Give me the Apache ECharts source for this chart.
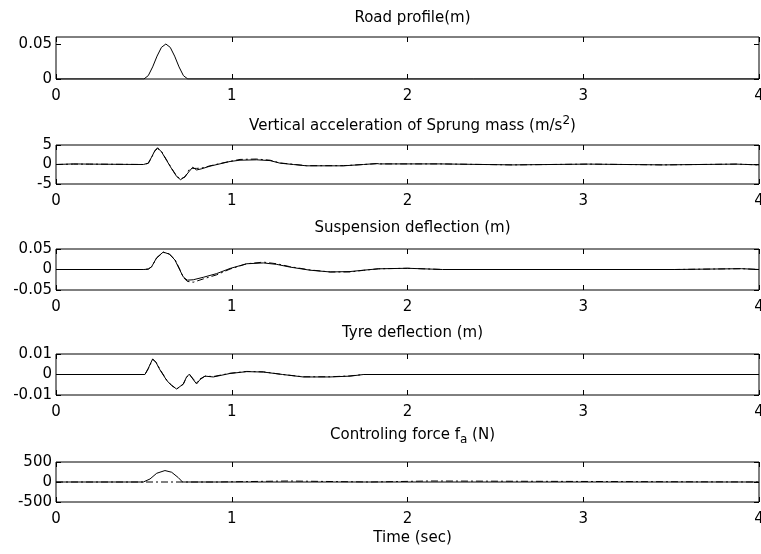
<!DOCTYPE html>
<html>
<head>
<meta charset="utf-8">
<script src="https://cdn.jsdelivr.net/npm/echarts@6/dist/echarts.min.js"></script>
<style>
  html, body { margin: 0; padding: 0; background: #fff; overflow: hidden; }
  #chart { width: 761px; height: 554px; }
</style>
</head>
<body>
<div id="chart"></div>
<script>
// Time ticks shared by all panels (sec)
const timeTicks = [0, 1, 2, 3, 4];

// Road profile (m)
const roadT = [0, 0.5, 0.525, 0.55, 0.575, 0.6, 0.625, 0.65, 0.675, 0.7, 0.725, 0.75, 4];
const roadY = [0, 0, 0.0048, 0.0173, 0.0327, 0.0452, 0.05, 0.0452, 0.0327, 0.0173, 0.0048, 0, 0];
const roadTicks = [0, 0.05];

// Vertical acceleration of sprung mass (m/s^2): solid and dash-dot responses
const accT = [0, 0.1, 0.19, 0.2, 0.497, 0.525, 0.544, 0.563, 0.578, 0.601, 0.63, 0.658, 0.687, 0.709, 0.734, 0.759, 0.778, 0.8, 0.829, 0.876, 0.933, 0.99, 1.047, 1.142, 1.218, 1.275, 1.35, 1.426, 1.635, 1.749, 1.825, 1.84, 2.185, 2.19, 2.6, 2.61, 3.03, 3.04, 3.455, 3.46, 3.87, 3.88, 4];
const accA = [0, 0.15, 0.1, 0, 0, 0.34, 1.9, 3.6, 4.3, 3.2, 1.0, -1.1, -3.1, -3.9, -3.1, -1.7, -0.7, -1.4, -1.1, -0.43, 0.17, 0.77, 1.1, 1.2, 1.0, 0.34, 0, -0.34, -0.34, 0, 0.25, 0.15, 0.15, -0.1, -0.1, 0.1, 0.1, -0.1, -0.1, 0.1, 0.1, -0.1, -0.1];
const accB = [0, 0.1, 0.1, 0, 0, 0.3, 1.8, 3.5, 4.1, 3.3, 1.1, -1.0, -3.0, -3.7, -3.2, -1.2, -1.0, -1.0, -0.9, -0.35, 0.25, 0.8, 1.3, 1.4, 1.1, 0.4, 0.05, -0.3, -0.3, 0, 0.2, 0.15, 0.15, -0.1, -0.1, 0.1, 0.1, -0.1, -0.1, 0.1, 0.1, -0.1, -0.1];
const accTicks = [-5, 0, 5];

// Suspension deflection (m)
const susT = [0, 0.5, 0.525, 0.544, 0.573, 0.61, 0.645, 0.677, 0.705, 0.724, 0.747, 0.781, 0.838, 0.914, 0.99, 1.085, 1.18, 1.256, 1.33, 1.445, 1.56, 1.673, 1.75, 1.834, 2.0, 2.2, 3.52, 3.53, 3.9, 3.91, 4];
const susA = [0, 0, 0.001, 0.0067, 0.029, 0.0425, 0.0375, 0.023, -0.0017, -0.018, -0.026, -0.025, -0.019, -0.01, 0.0025, 0.014, 0.016, 0.0125, 0.006, -0.0017, -0.006, -0.005, -0.0017, 0.0017, 0.003, 0, 0, 0.002, 0.002, 0, 0];
const susB = [0, 0, 0.001, 0.0065, 0.028, 0.042, 0.038, 0.024, 0, -0.019, -0.029, -0.031, -0.023, -0.013, 0.001, 0.014, 0.018, 0.014, 0.007, -0.001, -0.006, -0.006, -0.002, 0.0017, 0.003, 0, 0, 0.002, 0.002, 0, 0];
const susTicks = [-0.05, 0, 0.05];

// Tyre deflection (m)
const tyreT = [0, 0.506, 0.525, 0.55, 0.569, 0.592, 0.63, 0.658, 0.687, 0.724, 0.743, 0.759, 0.781, 0.8, 0.819, 0.848, 0.895, 0.99, 1.085, 1.18, 1.29, 1.407, 1.56, 1.673, 1.75, 4];
const tyreA = [0, 0, 0.003, 0.0076, 0.0059, 0.0022, -0.0029, -0.0054, -0.0071, -0.0046, -0.0012, 0.0002, -0.0025, -0.0046, -0.0025, -0.0008, -0.0012, 0.0005, 0.0014, 0.0012, 0, -0.0012, -0.0012, -0.0008, 0, 0];
const tyreB = [0, 0, 0.0028, 0.0074, 0.006, 0.0024, -0.0027, -0.0053, -0.007, -0.0048, -0.0014, 0, -0.0022, -0.004, -0.0022, -0.0008, -0.001, 0.0006, 0.0015, 0.0013, 0, -0.0011, -0.0011, -0.0007, 0, 0];
const tyreTicks = [-0.01, 0, 0.01];

// Controlling force f_a (N)
const forceT = [0, 0.497, 0.535, 0.573, 0.62, 0.658, 0.696, 0.72, 4];
const forceA = [0, 0, 76, 218, 286, 244, 109, 0, 0];
const forceBT = [0, 0.92, 0.921, 1.32, 1.321, 1.79, 1.791, 2.13, 2.131, 4];
const forceB = [0, 0, 25, 25, 0, 0, 25, 25, 0, 0];
const forceTicks = [-500, 0, 500];

const FONT = 'DejaVu Sans, Verdana, sans-serif';
const zip = (t, v) => t.map((x, i) => [x, v[i]]);

// Panel layout: top edge, height, y-range, y-ticks, title
const panels = [
  { top: 37, h: 42, min: 0, max: 0.06, ticks: roadTicks, title: 'Road profile(m)', titleTop: 6,
    lines: [[zip(roadT, roadY), 'solid']] },
  { top: 145, h: 39, min: -5, max: 5, ticks: accTicks, title: 'Vertical acceleration of Sprung mass (m/s{sup|2})', titleTop: 110,
    lines: [[zip(accT, accB), 'dashdot'], [zip(accT, accA), 'solid']] },
  { top: 249, h: 41, min: -0.05, max: 0.05, ticks: susTicks, title: 'Suspension deflection (m)', titleTop: 216,
    lines: [[zip(susT, susB), 'dashdot'], [zip(susT, susA), 'solid']] },
  { top: 354, h: 41, min: -0.01, max: 0.01, ticks: tyreTicks, title: 'Tyre deflection (m)', titleTop: 321,
    lines: [[zip(tyreT, tyreB), 'dashdot'], [zip(tyreT, tyreA), 'solid']] },
  { top: 462, h: 40, min: -500, max: 500, ticks: forceTicks, title: 'Controling force f{sub|a} (N)', titleTop: 419,
    lines: [[zip(forceBT, forceB), 'dashdot'], [zip(forceT, forceA), 'solid']] }
];

const LEFT = 56, RIGHT = 2;
const grid = [], xAxis = [], yAxis = [], series = [], title = [];

panels.forEach((p, i) => {
  grid.push({ left: LEFT, right: RIGHT, top: p.top, height: p.h, show: true, outerBoundsMode: 'none',
    containLabel: false, borderColor: '#000', borderWidth: 1, backgroundColor: '#fff' });

  const tickStyle = { show: true, inside: true, length: 5, lineStyle: { color: '#000', width: 1 } };
  const noLine = { show: false, onZero: false };
  // bottom axis with labels
  xAxis.push({ type: 'value', gridIndex: i, min: 0, max: 4, position: 'bottom',
    axisLine: noLine, splitLine: { show: false },
    axisTick: Object.assign({ customValues: timeTicks }, tickStyle),
    axisLabel: { customValues: timeTicks, margin: 10, color: '#000', fontSize: 15, fontFamily: FONT } });
  // mirrored top ticks
  xAxis.push({ type: 'value', gridIndex: i, min: 0, max: 4, position: 'top',
    axisLine: noLine, splitLine: { show: false },
    axisTick: Object.assign({ customValues: timeTicks }, tickStyle),
    axisLabel: { show: false } });
  // left axis with labels
  yAxis.push({ type: 'value', gridIndex: i, min: p.min, max: p.max, position: 'left',
    axisLine: noLine, splitLine: { show: false },
    axisTick: Object.assign({ customValues: p.ticks }, tickStyle),
    axisLabel: { customValues: p.ticks, margin: 4, color: '#000', fontSize: 15, fontFamily: FONT } });
  // mirrored right ticks
  yAxis.push({ type: 'value', gridIndex: i, min: p.min, max: p.max, position: 'right',
    axisLine: noLine, splitLine: { show: false },
    axisTick: Object.assign({ customValues: p.ticks }, tickStyle),
    axisLabel: { show: false } });

  p.lines.forEach(([data, kind]) => {
    series.push({ type: 'line', xAxisIndex: 2 * i, yAxisIndex: 2 * i, data,
      showSymbol: false, symbol: 'none', silent: true,
      lineStyle: { color: '#000', width: 1, type: kind === 'solid' ? 'solid' : [7, 3, 2, 3] } });
  });

  title.push({ text: p.title, left: (LEFT + 761 - RIGHT) / 2, top: p.titleTop, textAlign: 'center',
    textStyle: { fontFamily: FONT, fontSize: 15, fontWeight: 'normal', color: '#000',
      rich: {
        sup: { fontFamily: FONT, fontSize: 12, color: '#000', padding: [0, 0, 10, 0] },
        sub: { fontFamily: FONT, fontSize: 12, color: '#000', padding: [10, 0, 0, 0] }
      } } });
});

title.push({ text: 'Time (sec)', left: (LEFT + 761 - RIGHT) / 2, top: 526, textAlign: 'center',
  textStyle: { fontFamily: FONT, fontSize: 15, fontWeight: 'normal', color: '#000' } });

const chart = echarts.init(document.getElementById('chart'), null, { renderer: 'canvas' });
chart.setOption({ animation: false, backgroundColor: '#fff', title, grid, xAxis, yAxis, series });
</script>
</body>
</html>
